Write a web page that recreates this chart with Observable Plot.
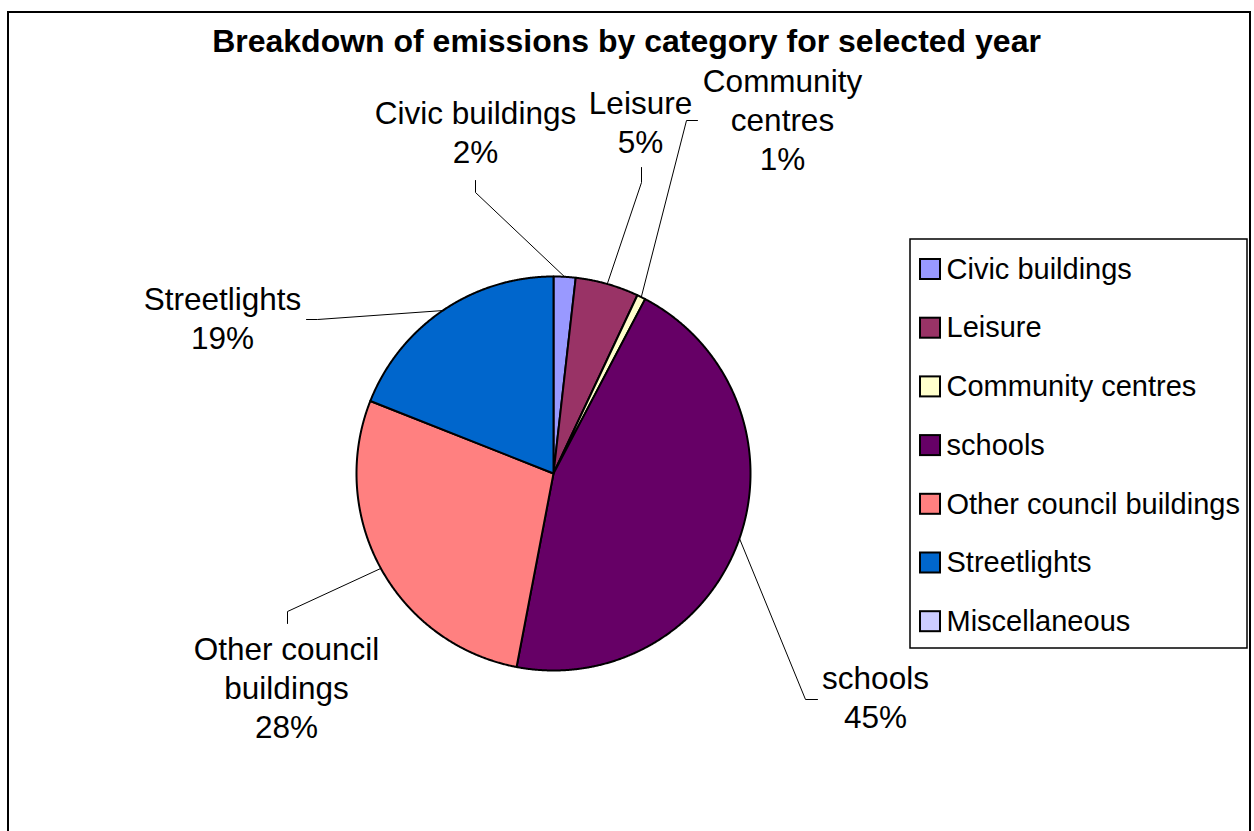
<!DOCTYPE html>
<html><head><meta charset="utf-8">
<script src="https://cdn.jsdelivr.net/npm/d3@7"></script>
<script src="https://cdn.jsdelivr.net/npm/@observablehq/plot@0.6"></script>
<style>
html,body{margin:0;padding:0;background:#fff;}
#chart svg{display:block;}
</style></head><body><div id="chart"></div>
<script>
// ---- data ----
const categories = ["Civic buildings","Leisure","Community centres","schools","Other council buildings","Streetlights","Miscellaneous"];
const shares = [1.8, 5.2, 0.7, 45.3, 28.0, 19.0, 0];
const colors = ["#9999FF","#993366","#FFFFCC","#660066","#FF8080","#0066CC","#CCCCFF"];
const labelNames = ["Civic buildings","Leisure","Community\ncentres","schools","Other council\nbuildings","Streetlights",""];
const titleText = "Breakdown of emissions by category for selected year";

// ---- layout ----
const W = 1254, H = 831;
const cx = 553, cy = 473, R = 197;
const labelLayout = {
  "Civic buildings":         {x: 475, y: 96,  elbow: [[475,180],[475,192]]},
  "Leisure":                 {x: 640, y: 86,  elbow: [[641,167],[641,182]]},
  "Community centres":       {x: 782, y: 64,  elbow: [[697,120],[686,120]]},
  "schools":                 {x: 875, y: 661, elbow: [[817,699],[805,699]]},
  "Other council buildings": {x: 286, y: 632, elbow: [[287,623],[287,611]]},
  "Streetlights":            {x: 222, y: 282, elbow: [[306,319],[317,319]]}
};
const legendBox = {x1: 910, x2: 1247, y1: 239, y2: 648, top: 269, step: 58.7, sw: 10, sx: 920, tx: 946};

// ---- derived geometry ----
const rows = categories.map((c, i) => ({category: c, value: shares[i], label: labelNames[i], i}));
const arcs = d3.pie().sort(null).value(d => d.value)(rows);
const pt = (a, r) => ({x: cx + r * Math.sin(a), y: cy - r * Math.cos(a)});
const slicePts = [];
const leaderPts = [];
const labels = [];
for (const a of arcs) {
  if (a.data.value <= 0) continue;
  const c = a.data.category;
  slicePts.push({category: c, x: cx, y: cy});
  const n = Math.max(2, Math.ceil((a.endAngle - a.startAngle) / (Math.PI / 720)));
  for (let k = 0; k <= n; k++) {
    const p = pt(a.startAngle + (a.endAngle - a.startAngle) * k / n, R);
    slicePts.push({category: c, ...p});
  }
  slicePts.push({category: c, x: cx, y: cy});
  const L = labelLayout[c];
  if (L) {
    const mid = pt((a.startAngle + a.endAngle) / 2, R);
    for (const e of L.elbow) leaderPts.push({category: c, x: e[0], y: e[1]});
    leaderPts.push({category: c, ...mid});
    labels.push({x: L.x, y: L.y, text: a.data.label + "\n" + Math.round(a.data.value) + "%"});
  }
}
const legendRows = rows.map((d, i) => ({...d, cyL: legendBox.top + i * legendBox.step}));

const chart = Plot.plot({
  width: W, height: H,
  margin: 0, marginTop: 0, marginRight: 0, marginBottom: 0, marginLeft: 0,
  x: {domain: [0, W], range: [0, W], axis: null},
  y: {domain: [0, H], range: [0, H], axis: null},
  color: {type: "ordinal", domain: categories, range: colors},
  style: {fontFamily: "'Liberation Sans', Arial, sans-serif", background: "white", color: "black"},
  marks: [
    // outer chart frame
    Plot.rect([0], {x1: 8, x2: 1250, y1: 12, y2: H + 10, fill: "white", stroke: "black", strokeWidth: 2}),
    // pie slices
    Plot.line(slicePts, {x: "x", y: "y", z: "category", fill: "category", stroke: "black", strokeWidth: 2, strokeLinejoin: "round", curve: "linear"}),
    // leader lines
    Plot.line(leaderPts, {x: "x", y: "y", z: "category", stroke: "black", strokeWidth: 1}),
    // data labels
    Plot.text(labels, {x: "x", y: "y", text: "text", textAnchor: "middle", lineAnchor: "top", lineHeight: 1.24, fontSize: 31.5, fill: "black"}),
    // title
    Plot.text([titleText], {x: 626, y: 29, text: d => d, textAnchor: "middle", lineAnchor: "top", fontSize: 32, fontWeight: "bold", fill: "black"}),
    // legend
    Plot.rect([0], {x1: legendBox.x1, x2: legendBox.x2, y1: legendBox.y1, y2: legendBox.y2, fill: "white", stroke: "black", strokeWidth: 1.5}),
    Plot.rect(legendRows, {x1: legendBox.sx, x2: legendBox.sx + 2 * legendBox.sw, y1: d => d.cyL - legendBox.sw, y2: d => d.cyL + legendBox.sw, fill: "category", stroke: "black", strokeWidth: 2}),
    Plot.text(legendRows, {x: legendBox.tx, y: "cyL", text: "category", textAnchor: "start", lineAnchor: "middle", fontSize: 29, fill: "black"})
  ]
});
document.getElementById("chart").appendChild(chart);
</script>
</body></html>
